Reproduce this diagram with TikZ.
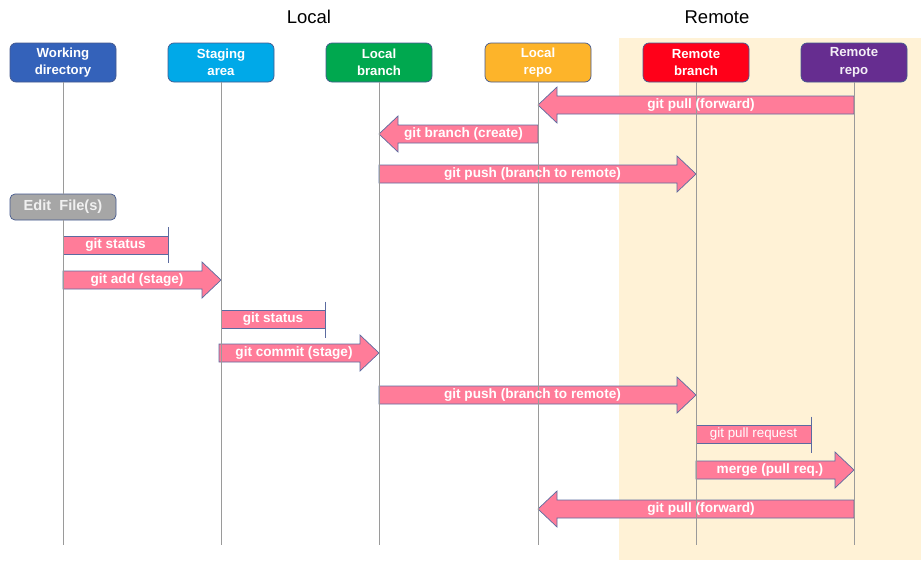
\documentclass[tikz,border=0pt]{standalone}
\usepackage{fontspec}
\setmainfont{Liberation Sans}
\usetikzlibrary{calc}

\definecolor{wdblue}{HTML}{3462BA}
\definecolor{stblue}{HTML}{00A9E8}
\definecolor{lbgreen}{HTML}{00A84F}
\definecolor{lrorange}{HTML}{FDB42A}
\definecolor{rbred}{HTML}{FF0019}
\definecolor{rrpurple}{HTML}{662D90}
\definecolor{editgray}{HTML}{A6A6A6}
\definecolor{boxline}{HTML}{44598E}
\definecolor{lifegray}{HTML}{9A9A9A}
\definecolor{arrowfill}{HTML}{FF7C99}
\definecolor{arrowline}{HTML}{5B6BA0}
\definecolor{remotebg}{HTML}{FFF2D6}

% fat block arrow from #1 to #2
\newcommand{\fatarrow}[2]{%
  \path let \p1=(#1), \p2=(#2), \n1={sign(\x2-\x1)} in
    [fat] (\x1,\y1+9) -- (\x2-\n1*19pt,\y1+9) -- (\x2-\n1*19pt,\y1+18)
      -- (\x2,\y1) -- (\x2-\n1*19pt,\y1-18) -- (\x2-\n1*19pt,\y1-9)
      -- (\x1,\y1-9) -- cycle;
}
% label anchor of a fat arrow from #1 to #2, named #3
\newcommand{\fatlabel}[3]{%
  \path let \p1=(#1), \p2=(#2), \n1={sign(\x2-\x1)} in
    coordinate (#3) at (\x1/2+\x2/2-\n1*5pt,\y1);
}
% flat bar ending in a short stop line
\newcommand{\stopbar}[2]{%
  \path let \p1=(#1), \p2=(#2) in
    [fat] (\x1,\y1+9) rectangle (\x2,\y1-9);
  \path let \p2=(#2) in
    [stopline] (\x2,\y2+18) -- (\x2,\y2-18);
}

\begin{document}
\begin{tikzpicture}[x=1pt,y=-1pt,
  hdr/.style={draw=boxline, line width=0.7pt, rounded corners=6pt,
    minimum width=106pt, minimum height=39pt, inner sep=0pt,
    text=white, align=center, font=\bfseries\fontsize{13.2}{17.5}\selectfont},
  life/.style={draw=lifegray, line width=0.8pt},
  fat/.style={fill=arrowfill, draw=arrowline, line width=0.7pt},
  stopline/.style={draw=arrowline, line width=0.9pt},
  lbl/.style={text=white, inner sep=0pt, font=\bfseries\fontsize{13.6}{15}\selectfont},
  title/.style={font=\fontsize{18.5}{22}\selectfont, text=black}]

\useasboundingbox (0,0) rectangle (921,560);
\fill[remotebg] (619,38) rectangle (921,560);

\node[title] (tlocal) at (309,17) {Local};
\node[title] (tremote) at (717,17) {Remote};

% participants
\node[hdr, fill=wdblue]   (wd) at (63,62.5)  {Working\\directory};
\node[hdr, fill=stblue]   (sa) at (221,62.5) {Staging\\area};
\node[hdr, fill=lbgreen]  (lb) at (379,62.5) {Local\\branch};
\node[hdr, fill=lrorange] (lr) at (538,62.5) {Local\\repo};
\node[hdr, fill=rbred]    (rb) at (696,62.5) {Remote\\branch};
\node[hdr, fill=rrpurple, text=white!92!rrpurple] (rr) at (854,62.5) {Remote\\repo};

% lifeline ends
\foreach \n in {wd,sa,lb,lr,rb,rr}
  \coordinate (\n-end) at (\n |- 0,545);

% row anchors
\coordinate (s1) at (168,245);
\coordinate (s2) at (325,319.5);
\coordinate (s3) at (811,434.5);
\coordinate (cm) at (219,353);

% arrows
\fatarrow{rr |- 0,105}{lr |- 0,105}
\fatarrow{lr |- 0,134}{lb |- 0,134}
\fatarrow{lb |- 0,174}{rb |- 0,174}
\stopbar{wd |- s1}{s1}
\fatarrow{wd |- 0,280}{sa |- 0,280}
\stopbar{sa |- s2}{s2}
\fatarrow{cm}{lb |- cm}
\fatarrow{lb |- 0,395}{rb |- 0,395}
\stopbar{rb |- s3}{s3}
\fatarrow{rb |- 0,470}{rr |- 0,470}
\fatarrow{rr |- 0,509}{lr |- 0,509}

% lifelines
\foreach \n in {sa,lb,lr,rb,rr}
  \draw[life] (\n.south) -- (\n-end);
\node[hdr, fill=editgray, minimum height=26pt, rounded corners=5pt,
  text=white!94!black, font=\bfseries\fontsize{14.6}{16}\selectfont] (edit) at (63,207) {Edit\ \ File(s)};
\draw[life] (wd.south) -- (edit.north);
\draw[life] (edit.south) -- (wd-end);

% labels
\fatlabel{rr |- 0,105}{lr |- 0,105}{l1}
\node[lbl] at (l1) {git pull (forward)};
\fatlabel{lr |- 0,134}{lb |- 0,134}{l2}
\node[lbl] at (l2) {git branch (create)};
\fatlabel{lb |- 0,174}{rb |- 0,174}{l3}
\node[lbl] at (l3) {git push (branch to remote)};
\node[lbl] (l4) at ($(wd |- s1)!0.5!(s1)$) {git status};
\fatlabel{wd |- 0,280}{sa |- 0,280}{l5}
\node[lbl] at (l5) {git add (stage)};
\node[lbl] (l6) at ($(sa |- s2)!0.5!(s2)$) {git status};
\fatlabel{cm}{lb |- cm}{l7}
\node[lbl] at (l7) {git commit (stage)};
\fatlabel{lb |- 0,395}{rb |- 0,395}{l8}
\node[lbl] at (l8) {git push (branch to remote)};
\node[lbl, font=\fontsize{13.4}{15}\selectfont] (l9) at ($(rb |- s3)!0.5!(s3)$) {git pull request};
\fatlabel{rb |- 0,470}{rr |- 0,470}{l10}
\node[lbl] at (l10) {merge (pull req.)};
\fatlabel{rr |- 0,509}{lr |- 0,509}{l11}
\node[lbl] at (l11) {git pull (forward)};
\end{tikzpicture}
\end{document}
